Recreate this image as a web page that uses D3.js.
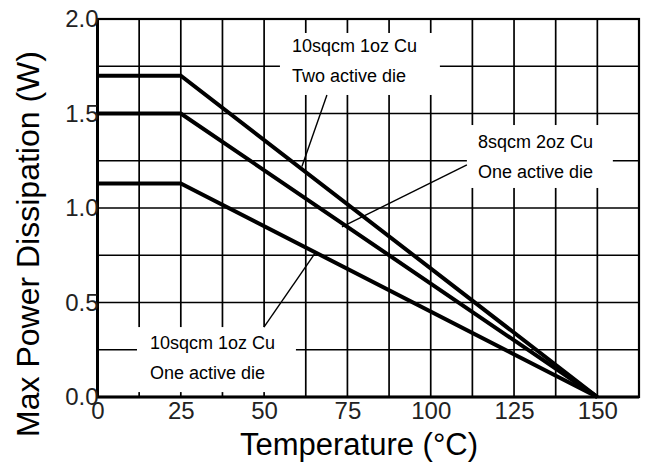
<!DOCTYPE html>
<html>
<head>
<meta charset="utf-8">
<script src="https://cdn.jsdelivr.net/npm/d3@7"></script>
<style>
  body { margin: 0; background: #fff; }
  svg { display: block; font-family: "Liberation Sans", Arial, sans-serif; }
</style>
</head>
<body>
<div id="chart"></div>
<script>
// Data
const temperature = [0, 25, 150];
const twoDie10sqcm = [1.70, 1.70, 0];
const oneDie8sqcm = [1.50, 1.50, 0];
const oneDie10sqcm = [1.13, 1.13, 0];
const seriesList = [twoDie10sqcm, oneDie8sqcm, oneDie10sqcm];

const xTicks = [0, 25, 50, 75, 100, 125, 150];
const yTicks = [0, 0.5, 1.0, 1.5, 2.0];
const xGrid = d3.range(12.5, 162.5, 12.5);
const yGrid = d3.range(0.25, 2.0, 0.25);

// Callout labels (box and leader in data units)
const callouts = [
    {lines: ["10sqcm 1oz Cu", "Two active die"], box: [54.75, 102.75, 1.598, 1.926],
     textAt: [58.35, 1.824, 1.668], leader: [[68.85, 1.598], [61.35, 1.22]]},
    {lines: ["8sqcm 2oz Cu", "One active die"], box: [110.85, 154.65, 1.106, 1.439],
     textAt: [114.15, 1.316, 1.157], leader: [[110.85, 1.228], [73.35, 0.9]]},
    {lines: ["10sqcm 1oz Cu", "One active die"], box: [11.85, 59.55, 0.026, 0.37],
     textAt: [15.75, 0.252, 0.095], leader: [[49.95, 0.37], [65.25, 0.76]]}
];

const canvas = {w: 649, h: 466};
const margin = {top: 19, right: 10, bottom: 69, left: 97.5};

const x = d3.scaleLinear().domain([0, 162.5]).range([margin.left, canvas.w - margin.right]);
const y = d3.scaleLinear().domain([0, 2]).range([canvas.h - margin.bottom, margin.top]);

const svg = d3.select("#chart")
    .append("svg")
    .attr("width", canvas.w)
    .attr("height", canvas.h);

// grid
const grid = svg.append("g").attr("stroke", "#000").attr("stroke-width", 1.7);
grid.selectAll(".vg")
    .data(xGrid)
    .enter()
    .append("line")
    .attr("x1", d => x(d)).attr("x2", d => x(d))
    .attr("y1", y(0)).attr("y2", y(2));
grid.selectAll(".hg")
    .data(yGrid)
    .enter()
    .append("line")
    .attr("x1", x(0)).attr("x2", x(162.5))
    .attr("y1", d => y(d)).attr("y2", d => y(d));

// white callout boxes knock out the grid
svg.append("g")
    .selectAll("rect")
    .data(callouts)
    .enter()
    .append("rect")
    .attr("x", d => x(d.box[0]))
    .attr("y", d => y(d.box[3]))
    .attr("width", d => x(d.box[1]) - x(d.box[0]))
    .attr("height", d => y(d.box[2]) - y(d.box[3]))
    .attr("fill", "#fff");

// frame
svg.append("rect")
    .attr("x", x(0)).attr("y", y(2))
    .attr("width", x(162.5) - x(0))
    .attr("height", y(0) - y(2))
    .attr("fill", "none")
    .attr("stroke", "#000")
    .attr("stroke-width", 2.2);
svg.append("path")
    .attr("d", `M${x(0)},${y(2)}V${y(0)}H${x(162.5)}`)
    .attr("fill", "none")
    .attr("stroke", "#000")
    .attr("stroke-width", 3);

// curves
const line = d3.line()
    .x((d, i) => x(temperature[i]))
    .y(d => y(d));
svg.append("g")
    .selectAll("path")
    .data(seriesList)
    .enter()
    .append("path")
    .attr("d", line)
    .attr("fill", "none")
    .attr("stroke", "#000")
    .attr("stroke-width", 4);

// leaders
svg.append("g")
    .selectAll("line")
    .data(callouts)
    .enter()
    .append("line")
    .attr("x1", d => x(d.leader[0][0])).attr("y1", d => y(d.leader[0][1]))
    .attr("x2", d => x(d.leader[1][0])).attr("y2", d => y(d.leader[1][1]))
    .attr("stroke", "#000")
    .attr("stroke-width", 1.4);

// callout text
const labels = svg.append("g")
    .selectAll("g")
    .data(callouts)
    .enter()
    .append("g");
labels.each(function(d) {
    const g = d3.select(this);
    d.lines.forEach((t, i) => {
        g.append("text")
            .attr("x", x(d.textAt[0]))
            .attr("y", y(d.textAt[1 + i]))
            .attr("font-size", 18)
            .attr("fill", "#000")
            .text(t);
    });
});

// axes labels
const xAxis = svg.append("g")
    .attr("transform", `translate(0,${y(0)})`)
    .call(d3.axisBottom(x).tickValues(xTicks).tickSize(0).tickPadding(5).tickFormat(d3.format("d")));
xAxis.select(".domain").remove();
xAxis.selectAll("text")
    .attr("font-size", 24)
    .attr("font-family", "Liberation Sans, Arial, sans-serif")
    .attr("fill", "#222");

const yAxis = svg.append("g")
    .attr("transform", `translate(${x(0)},0)`)
    .call(d3.axisLeft(y).tickValues(yTicks).tickSize(0).tickFormat(d3.format(".1f")));
yAxis.select(".domain").remove();
yAxis.selectAll("text")
    .attr("x", 1)
    .attr("font-size", 24)
    .attr("font-family", "Liberation Sans, Arial, sans-serif")
    .attr("fill", "#222");

// titles
svg.append("text")
    .attr("x", 359)
    .attr("y", 455)
    .attr("text-anchor", "middle")
    .attr("font-size", 31)
    .attr("fill", "#000")
    .text("Temperature (°C)");

svg.append("text")
    .attr("transform", "translate(39,244) rotate(-90)")
    .attr("text-anchor", "middle")
    .attr("font-size", 32)
    .attr("fill", "#000")
    .text("Max Power Dissipation (W)");
</script>
</body>
</html>
